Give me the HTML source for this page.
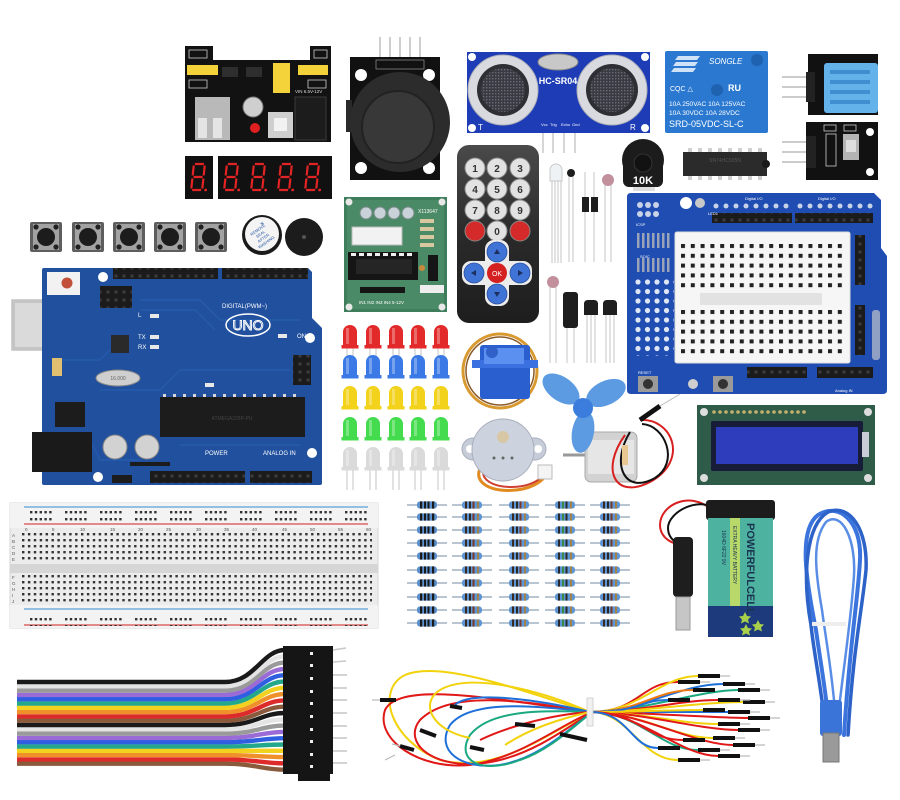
<!DOCTYPE html>
<html><head><meta charset="utf-8"><style>html,body{margin:0;padding:0;background:#fff;}svg{display:block}</style></head><body>
<svg width="900" height="800" viewBox="0 0 900 800" xmlns="http://www.w3.org/2000/svg" xmlns:xlink="http://www.w3.org/1999/xlink" font-family="Liberation Sans, sans-serif">
<defs>
 <pattern id="railH" x="30" y="511" width="35" height="7" patternUnits="userSpaceOnUse"><rect x="0" y="0" width="2.4" height="2.4" fill="#333"/><rect x="4.8" y="0" width="2.4" height="2.4" fill="#333"/><rect x="9.6" y="0" width="2.4" height="2.4" fill="#333"/><rect x="14.4" y="0" width="2.4" height="2.4" fill="#333"/><rect x="19.2" y="0" width="2.4" height="2.4" fill="#333"/></pattern>
 <pattern id="mainH" x="22" y="533" width="5.9" height="6" patternUnits="userSpaceOnUse"><rect x="0" y="0" width="2.4" height="2.4" fill="#333"/></pattern>
 <pattern id="protoA" x="681" y="244" width="9.8" height="9.8" patternUnits="userSpaceOnUse"><rect x="0" y="0" width="4" height="4" fill="#222"/></pattern>
 <pattern id="protoB" x="681" y="310" width="9.8" height="9.8" patternUnits="userSpaceOnUse"><rect x="0" y="0" width="4" height="4" fill="#222"/></pattern>
 <pattern id="perf" x="634" y="278" width="9.5" height="9.5" patternUnits="userSpaceOnUse"><circle cx="4" cy="4" r="2.6" fill="#dfe6f5"/></pattern>
 <pattern id="soic" x="636" y="233" width="5" height="10" patternUnits="userSpaceOnUse"><rect width="5" height="10" fill="#1f4db2"/><rect x="1" y="0" width="2.5" height="10" fill="#9aa3b8"/></pattern>
 <pattern id="mesh" x="0" y="0" width="3" height="3" patternUnits="userSpaceOnUse"><rect width="3" height="3" fill="#3a3a42"/><rect width="1.4" height="1.4" fill="#6a6a74"/></pattern>
 <pattern id="hdr" x="0" y="0" width="8" height="8" patternUnits="userSpaceOnUse"><rect width="8" height="8" fill="#1b1b1b"/><rect x="2.5" y="2.5" width="3" height="3" fill="#3c3c3c"/></pattern>
 <linearGradient id="remG" x1="0" y1="0" x2="0" y2="1"><stop offset="0" stop-color="#4a4a4a"/><stop offset="0.5" stop-color="#2a2a2a"/><stop offset="1" stop-color="#1e1e1e"/></linearGradient>
 <g id="dig"><path d="M3 1H12 M2 2.5V12.5 M13 2.5V12.5 M3 14H12 M2 15.5V25.5 M13 15.5V25.5 M3 27H12" stroke="#e42424" stroke-width="2.2" fill="none"/><circle cx="16.5" cy="27" r="1.4" fill="#e42424"/></g>
 <g id="led"><path d="M-7 23V7A7 7 0 0 1 7 7V23Z"/><rect x="-8.5" y="20" width="17" height="3.5"/><rect x="-4" y="3" width="3" height="16" fill="#fff" opacity="0.3"/></g>
 <g id="resA"><line x1="-20" y1="0" x2="20" y2="0" stroke="#8fa3b8" stroke-width="1.3"/><rect x="-10" y="-3.6" width="20" height="7.2" rx="3" fill="#5a8fcc"/><rect x="-7" y="-3.6" width="2.2" height="7.2" fill="#1a1a1a"/><rect x="-3" y="-3.6" width="2" height="7.2" fill="#1a1a1a"/><rect x="0.5" y="-3.6" width="2" height="7.2" fill="#1a1a1a"/><rect x="5" y="-3.6" width="2.2" height="7.2" fill="#1a1a1a"/></g>
 <g id="resB"><line x1="-20" y1="0" x2="20" y2="0" stroke="#8fa3b8" stroke-width="1.3"/><rect x="-10" y="-3.6" width="20" height="7.2" rx="3" fill="#5e95d4"/><rect x="-7" y="-3.6" width="2" height="7.2" fill="#3a2a20"/><rect x="-3" y="-3.6" width="2" height="7.2" fill="#2a2a2a"/><rect x="0.5" y="-3.6" width="2" height="7.2" fill="#7a3a2a"/><rect x="5" y="-3.6" width="2" height="7.2" fill="#a0824a"/></g>
 <g id="resC"><line x1="-20" y1="0" x2="20" y2="0" stroke="#8fa3b8" stroke-width="1.3"/><rect x="-10" y="-3.6" width="20" height="7.2" rx="3" fill="#5e95d4"/><rect x="-7" y="-3.6" width="2" height="7.2" fill="#2a2a2a"/><rect x="-3" y="-3.6" width="2" height="7.2" fill="#3a8a4a"/><rect x="0.5" y="-3.6" width="2" height="7.2" fill="#2a2a2a"/><rect x="5" y="-3.6" width="2" height="7.2" fill="#a0824a"/></g>
 <g id="btn"><rect x="-16" y="-15" width="32" height="30" rx="2" fill="#5e5e5e"/><rect x="-13" y="-13" width="26" height="26" fill="#a2a2a2"/><circle r="9" fill="#1c1c1c"/><circle cx="-10" cy="-10" r="2.6" fill="#222"/><circle cx="10" cy="-10" r="2.6" fill="#222"/><circle cx="-10" cy="10" r="2.6" fill="#222"/><circle cx="10" cy="10" r="2.6" fill="#222"/></g>
</defs>
<rect width="900" height="800" fill="#fff"/>

<!-- Power module -->
<path d="M185 46H213V60H310V46H331V142H185Z" fill="#121212"/>
<rect x="189" y="50" width="18" height="8" fill="none" stroke="#ccc" stroke-width="0.8"/>
<rect x="314" y="50" width="13" height="8" fill="none" stroke="#ccc" stroke-width="0.8"/>
<rect x="187" y="65" width="31" height="10" fill="#f3d23a"/>
<rect x="273" y="63" width="17" height="30" fill="#f3d23a"/>
<rect x="298" y="65" width="30" height="10" fill="#f3d23a"/>
<rect x="222" y="67" width="16" height="10" fill="#2e2e2e"/>
<rect x="246" y="67" width="16" height="10" fill="#2e2e2e"/>
<rect x="189" y="80" width="18" height="8" fill="none" stroke="#ccc" stroke-width="0.8"/>
<rect x="308" y="80" width="18" height="8" fill="none" stroke="#ccc" stroke-width="0.8"/>
<text x="295" y="93" font-size="4.5" fill="#ddd">VIN 6.5V-12V</text>
<rect x="195" y="97" width="35" height="43" fill="#b9b9b9"/>
<rect x="198" y="118" width="9" height="20" fill="#e4e4e4"/><rect x="213" y="118" width="9" height="20" fill="#e4e4e4"/>
<circle cx="253" cy="107" r="10" fill="#cfcfcf" stroke="#777"/>
<circle cx="255" cy="128" r="5" fill="#e02020"/>
<rect x="268" y="112" width="25" height="26" fill="#cfcfcf"/><rect x="274" y="118" width="13" height="13" fill="#f2f2f2"/>
<rect x="295" y="97" width="31" height="43" fill="#1c1c1c" stroke="#3a3a3a"/>

<!-- 7 segment -->
<rect x="185" y="156" width="28" height="43" fill="#111"/>
<rect x="218" y="156" width="114" height="43" fill="#111"/>
<use xlink:href="#dig" href="#dig" transform="translate(192,163) skewX(-6)"/>
<use xlink:href="#dig" href="#dig" transform="translate(225,163) skewX(-6)"/>
<use xlink:href="#dig" href="#dig" transform="translate(252,163) skewX(-6)"/>
<use xlink:href="#dig" href="#dig" transform="translate(279,163) skewX(-6)"/>
<use xlink:href="#dig" href="#dig" transform="translate(306,163) skewX(-6)"/>

<!-- Joystick -->
<g stroke="#cfcfcf" stroke-width="2"><line x1="380" y1="37" x2="380" y2="65"/><line x1="390" y1="37" x2="390" y2="65"/><line x1="400" y1="37" x2="400" y2="65"/><line x1="410" y1="37" x2="410" y2="65"/><line x1="420" y1="37" x2="420" y2="65"/></g>
<rect x="350" y="57" width="90" height="123" fill="#111"/>
<rect x="376" y="60" width="48" height="9" fill="none" stroke="#888" stroke-width="0.8"/>
<circle cx="361" cy="75" r="6" fill="#fff"/><circle cx="429" cy="75" r="6" fill="#fff"/><circle cx="361" cy="168" r="6" fill="#fff"/><circle cx="429" cy="168" r="6" fill="#fff"/>
<rect x="346" y="100" width="6" height="32" fill="#2a2a2a"/>
<circle cx="400" cy="122" r="50" fill="#2c2c2c"/>
<circle cx="398" cy="127" r="36" fill="#383838" stroke="#222" stroke-width="2"/>

<!-- HC-SR04 -->
<g stroke="#d6d6d6" stroke-width="2"><line x1="543" y1="130" x2="543" y2="153"/><line x1="553" y1="130" x2="553" y2="153"/><line x1="564" y1="130" x2="564" y2="153"/><line x1="575" y1="130" x2="575" y2="153"/></g>
<rect x="467" y="52" width="183" height="81" fill="#1d3cb6"/>
<circle cx="472" cy="57" r="4" fill="#fff"/><circle cx="645" cy="57" r="4" fill="#fff"/><circle cx="472" cy="128" r="4" fill="#fff"/><circle cx="645" cy="128" r="4" fill="#fff"/>
<circle cx="503" cy="90" r="35" fill="#d8dadf" stroke="#aeb0b8"/><circle cx="503" cy="90" r="26" fill="#2e2e34"/><circle cx="503" cy="90" r="22" fill="url(#mesh)"/>
<circle cx="612" cy="90" r="35" fill="#d8dadf" stroke="#aeb0b8"/><circle cx="612" cy="90" r="26" fill="#2e2e34"/><circle cx="612" cy="90" r="22" fill="url(#mesh)"/>
<ellipse cx="558" cy="62" rx="20" ry="8" fill="#c8c8c8" stroke="#888"/>
<text x="558" y="84" font-size="9" fill="#fff" text-anchor="middle" font-weight="bold">HC-SR04</text>
<g font-size="4" fill="#fff"><text x="541" y="126">Vcc</text><text x="550" y="126">Trig</text><text x="561" y="126">Echo</text><text x="572" y="126">Gnd</text></g>
<text x="478" y="130" font-size="8" fill="#fff">T</text><text x="630" y="130" font-size="8" fill="#fff">R</text>

<!-- Relay -->
<rect x="665" y="51" width="103" height="82" rx="2" fill="#2a78d0"/>
<g fill="#cfe2f7"><path d="M678 56H700L697 60H675Z"/><path d="M676 62H698L695 66H673Z"/><path d="M674 68H696L693 72H671Z"/></g>
<text x="709" y="64" font-size="8" font-style="italic" fill="#fff">SONGLE</text>
<circle cx="757" cy="60" r="6" fill="#1f62b0"/><circle cx="717" cy="90" r="6" fill="#1f62b0"/>
<text x="670" y="91" font-size="7" fill="#fff">CQC △</text><text x="728" y="91" font-size="9" font-weight="bold" fill="#fff">RU</text>
<text x="669" y="106" font-size="6.6" fill="#fff">10A 250VAC 10A 125VAC</text>
<text x="669" y="115" font-size="6.6" fill="#fff">10A  30VDC 10A  28VDC</text>
<text x="669" y="127" font-size="9" fill="#fff">SRD-05VDC-SL-C</text>

<!-- DHT11 -->
<g stroke="#bbb" stroke-width="1.5"><line x1="782" y1="77" x2="808" y2="77"/><line x1="782" y1="87" x2="808" y2="87"/><line x1="782" y1="97" x2="808" y2="97"/></g>
<rect x="808" y="54" width="70" height="61" fill="#111"/>
<rect x="806" y="72" width="9" height="30" fill="#222"/>
<rect x="824" y="63" width="54" height="50" rx="3" fill="#63b3ea"/>
<g fill="#3f8fd0"><rect x="830" y="70" width="40" height="4"/><rect x="830" y="80" width="40" height="4"/><rect x="830" y="90" width="40" height="4"/><rect x="830" y="100" width="40" height="4"/></g>
<!-- IR module -->
<g stroke="#bbb" stroke-width="1.5"><line x1="782" y1="142" x2="808" y2="142"/><line x1="782" y1="152" x2="808" y2="152"/><line x1="782" y1="162" x2="808" y2="162"/></g>
<rect x="806" y="122" width="72" height="58" fill="#111"/>
<rect x="806" y="136" width="10" height="32" fill="#222"/>
<rect x="826" y="134" width="10" height="32" fill="none" stroke="#ccc" stroke-width="0.8"/>
<rect x="843" y="134" width="16" height="26" fill="#b4b4b4"/><rect x="846" y="140" width="10" height="12" fill="#ddd"/>
<rect x="824" y="125" width="12" height="6" fill="none" stroke="#ccc" stroke-width="0.8"/><rect x="844" y="125" width="12" height="6" fill="none" stroke="#ccc" stroke-width="0.8"/>
<circle cx="870" cy="132" r="4" fill="#fff"/><circle cx="870" cy="172" r="4" fill="#fff"/>

<!-- Potentiometer & IC -->
<rect x="633" y="185" width="22" height="6" fill="#ddd"/>
<circle cx="643" cy="160" r="21" fill="#1c1c1c"/>
<rect x="623" y="160" width="40" height="27" rx="6" fill="#1c1c1c"/>
<circle cx="643" cy="163" r="9" fill="#121212" stroke="#333"/>
<text x="643" y="184" font-size="11" font-weight="bold" fill="#fff" text-anchor="middle">10K</text>
<g fill="#d0d0d0"><rect x="688" y="148" width="4" height="5"/><rect x="698" y="148" width="4" height="5"/><rect x="708" y="148" width="4" height="5"/><rect x="718" y="148" width="4" height="5"/><rect x="728" y="148" width="4" height="5"/><rect x="738" y="148" width="4" height="5"/><rect x="748" y="148" width="4" height="5"/><rect x="758" y="148" width="4" height="5"/>
<rect x="688" y="175" width="4" height="5"/><rect x="698" y="175" width="4" height="5"/><rect x="708" y="175" width="4" height="5"/><rect x="718" y="175" width="4" height="5"/><rect x="728" y="175" width="4" height="5"/><rect x="738" y="175" width="4" height="5"/><rect x="748" y="175" width="4" height="5"/><rect x="758" y="175" width="4" height="5"/></g>
<rect x="683" y="152" width="84" height="24" fill="#2b2b2b"/>
<circle cx="766" cy="164" r="4" fill="#1a1a1a"/>
<text x="725" y="162" font-size="5" fill="#555" text-anchor="middle">SN74HC595N</text>

<!-- Remote -->
<rect x="457" y="145" width="82" height="178" rx="12" fill="url(#remG)"/>
<g stroke="#888" stroke-width="1"><circle cx="475" cy="168" r="10" fill="#e2e2e2"/><circle cx="497" cy="168" r="10" fill="#e2e2e2"/><circle cx="520" cy="168" r="10" fill="#e2e2e2"/>
<circle cx="475" cy="189" r="10" fill="#e2e2e2"/><circle cx="497" cy="189" r="10" fill="#e2e2e2"/><circle cx="520" cy="189" r="10" fill="#e2e2e2"/>
<circle cx="475" cy="210" r="10" fill="#e2e2e2"/><circle cx="497" cy="210" r="10" fill="#e2e2e2"/><circle cx="520" cy="210" r="10" fill="#e2e2e2"/>
<circle cx="475" cy="231" r="10" fill="#d42a2a"/><circle cx="497" cy="231" r="10" fill="#e2e2e2"/><circle cx="520" cy="231" r="10" fill="#d42a2a"/></g>
<g font-size="10" font-weight="bold" fill="#333" text-anchor="middle"><text x="475" y="172">1</text><text x="497" y="172">2</text><text x="520" y="172">3</text><text x="475" y="193">4</text><text x="497" y="193">5</text><text x="520" y="193">6</text><text x="475" y="214">7</text><text x="497" y="214">8</text><text x="520" y="214">9</text><text x="497" y="235">0</text></g>
<rect x="485" y="240" width="24" height="66" rx="9" fill="#ececec"/>
<rect x="462" y="261" width="70" height="24" rx="9" fill="#ececec"/>
<g stroke="#2a4f9e" stroke-width="0.8"><circle cx="497" cy="252" r="10" fill="#3f74d6"/><circle cx="474" cy="273" r="10" fill="#3f74d6"/><circle cx="520" cy="273" r="10" fill="#3f74d6"/><circle cx="497" cy="294" r="10" fill="#3f74d6"/></g>
<circle cx="497" cy="273" r="10" fill="#d42020"/>
<text x="497" y="276" font-size="7" fill="#fff" text-anchor="middle">OK</text>
<g fill="#1d2f60"><path d="M494 254L497 249L500 254Z"/><path d="M494 292L497 297L500 292Z"/><path d="M476 270L471 273L476 276Z"/><path d="M518 270L523 273L518 276Z"/></g>

<!-- small components -->
<g stroke="#c4c4c4" stroke-width="1">
<line x1="552" y1="178" x2="552" y2="263"/><line x1="555" y1="178" x2="555" y2="263"/><line x1="558" y1="178" x2="558" y2="263"/><line x1="561" y1="178" x2="561" y2="263"/>
<line x1="569" y1="176" x2="569" y2="262"/><line x1="573" y1="176" x2="573" y2="262"/>
<line x1="585" y1="172" x2="585" y2="262"/><line x1="594" y1="172" x2="594" y2="262"/>
<line x1="605" y1="185" x2="605" y2="262"/><line x1="611" y1="185" x2="611" y2="262"/>
<line x1="550" y1="287" x2="550" y2="363"/><line x1="556" y1="287" x2="556" y2="363"/>
<line x1="567" y1="326" x2="567" y2="363"/><line x1="574" y1="326" x2="574" y2="363"/>
<line x1="587" y1="314" x2="587" y2="363"/><line x1="591" y1="314" x2="591" y2="363"/><line x1="595" y1="314" x2="595" y2="363"/>
<line x1="606" y1="314" x2="606" y2="363"/><line x1="610" y1="314" x2="610" y2="363"/><line x1="614" y1="314" x2="614" y2="363"/>
</g>
<path d="M550 181V170A6 6 0 0 1 562 170V181Z" fill="#eef2f4" stroke="#c8c8c8"/>
<circle cx="571" cy="173" r="4" fill="#1e1e1e"/>
<rect x="582" y="197" width="7" height="15" fill="#1e1e1e"/><rect x="591" y="197" width="7" height="15" fill="#1e1e1e"/>
<circle cx="608" cy="180" r="6" fill="#c2909c"/>
<circle cx="553" cy="282" r="6" fill="#c2909c"/>
<rect x="563" y="292" width="15" height="36" rx="3" fill="#1e1e1e"/>
<path d="M584 315V303A4 4 0 0 1 588 300H594A4 4 0 0 1 598 303V315Z" fill="#1e1e1e"/>
<path d="M603 315V303A4 4 0 0 1 607 300H613A4 4 0 0 1 617 303V315Z" fill="#1e1e1e"/>

<!-- Buttons -->
<use xlink:href="#btn" href="#btn" x="46" y="237"/>
<use xlink:href="#btn" href="#btn" x="88" y="237"/>
<use xlink:href="#btn" href="#btn" x="129" y="237"/>
<use xlink:href="#btn" href="#btn" x="170" y="237"/>
<use xlink:href="#btn" href="#btn" x="211" y="237"/>

<!-- Buzzers -->
<circle cx="262" cy="235" r="20" fill="#1a1a1a"/>
<circle cx="262" cy="234" r="17" fill="#f4f4f4"/>
<g transform="rotate(-35 262 236)" font-size="4" fill="#2050a0" text-anchor="middle"><text x="262" y="230">REMOVE</text><text x="262" y="235">SEAL</text><text x="262" y="240">AFTER</text><text x="262" y="245">WASHING</text></g>
<text x="262" y="226" font-size="7" fill="#2050a0" text-anchor="middle">+</text>
<circle cx="304" cy="237" r="19" fill="#1c1c1c"/><circle cx="304" cy="237" r="2" fill="#555"/>

<!-- ULN2003 -->
<rect x="344" y="197" width="103" height="115" fill="#3f7e5c"/>
<rect x="347" y="200" width="97" height="109" fill="#4a8a66"/>
<circle cx="349" cy="202" r="3.5" fill="#e8e8e8"/><circle cx="442" cy="202" r="3.5" fill="#e8e8e8"/><circle cx="349" cy="307" r="3.5" fill="#e8e8e8"/><circle cx="442" cy="307" r="3.5" fill="#e8e8e8"/>
<g fill="#c8d2d8" stroke="#7a8a8a"><circle cx="366" cy="213" r="6"/><circle cx="380" cy="213" r="6"/><circle cx="394" cy="213" r="6"/><circle cx="408" cy="213" r="6"/></g>
<text x="418" y="213" font-size="5" fill="#fff">X113647</text>
<g fill="#d8c8a0"><rect x="420" y="219" width="14" height="4"/><rect x="420" y="227" width="14" height="4"/><rect x="420" y="235" width="14" height="4"/><rect x="420" y="243" width="14" height="4"/></g>
<rect x="352" y="227" width="50" height="18" fill="#f2f2f2" stroke="#bbb"/>
<rect x="348" y="252" width="70" height="28" fill="#151515"/>
<g fill="#eee"><rect x="351" y="253" width="5" height="3"/><rect x="359" y="253" width="5" height="3"/><rect x="367" y="253" width="5" height="3"/><rect x="375" y="253" width="5" height="3"/><rect x="383" y="253" width="5" height="3"/><rect x="391" y="253" width="5" height="3"/><rect x="399" y="253" width="5" height="3"/><rect x="407" y="253" width="5" height="3"/></g>
<rect x="356" y="259" width="56" height="15" fill="#252525"/>
<rect x="428" y="255" width="10" height="26" fill="#151515"/>
<circle cx="422" cy="268" r="3" fill="#c88a3a"/>
<rect x="360" y="287" width="45" height="6" fill="#151515"/>
<rect x="420" y="285" width="24" height="8" fill="#eee"/>
<text x="359" y="304" font-size="4.5" fill="#fff">IN1 IN2 IN3 IN4 5-12V</text>

<!-- Arduino UNO -->
<rect x="12" y="300" width="68" height="50" fill="#c4c4c4" stroke="#a0a0a0"/>
<rect x="15" y="303" width="62" height="44" fill="#dadada"/>
<path d="M42 270Q42 268 44 268H308L312 272V318L322 328V483Q322 485 320 485H44Q42 485 42 483Z" fill="#20509e"/>
<g stroke="#2b5fb4" stroke-width="1.2" fill="none" opacity="0.8"><path d="M140 300H200L220 320H300"/><path d="M140 310H195L215 330"/><path d="M100 390H160L180 370H290"/><path d="M60 360H100L110 350"/><path d="M180 445H300"/><path d="M70 440H90L100 460H140"/></g>
<rect x="12" y="300" width="30" height="50" fill="#c4c4c4"/><rect x="15" y="303" width="27" height="44" fill="#dadada"/>
<rect x="32" y="432" width="60" height="40" fill="#1a1a1a"/>
<rect x="113" y="268" width="105" height="11" fill="url(#hdr)"/>
<rect x="222" y="268" width="86" height="11" fill="url(#hdr)"/>
<rect x="150" y="471" width="95" height="12" fill="url(#hdr)"/>
<rect x="250" y="471" width="62" height="12" fill="url(#hdr)"/>
<circle cx="103" cy="277" r="5" fill="#fff"/><circle cx="310" cy="338" r="5" fill="#fff"/><circle cx="312" cy="453" r="5" fill="#fff"/><circle cx="98" cy="477" r="5" fill="#fff"/>
<rect x="47" y="272" width="33" height="23" fill="#f2f2f2"/><circle cx="67" cy="283" r="5.5" fill="#c0503a"/>
<rect x="100" y="286" width="32" height="22" fill="url(#hdr)"/>
<rect x="111" y="335" width="18" height="18" fill="#2a2a2a"/>
<ellipse cx="118" cy="378" rx="22" ry="8" fill="#cfcfcf" stroke="#888"/>
<text x="118" y="380" font-size="5" fill="#666" text-anchor="middle">16.000</text>
<rect x="55" y="402" width="30" height="25" fill="#1c1c1c"/>
<rect x="52" y="358" width="10" height="18" fill="#e0c070"/>
<g fill="#d8d8d8"><rect x="163" y="394" width="3" height="4"/><rect x="173" y="394" width="3" height="4"/><rect x="183" y="394" width="3" height="4"/><rect x="193" y="394" width="3" height="4"/><rect x="203" y="394" width="3" height="4"/><rect x="213" y="394" width="3" height="4"/><rect x="223" y="394" width="3" height="4"/><rect x="233" y="394" width="3" height="4"/><rect x="243" y="394" width="3" height="4"/><rect x="253" y="394" width="3" height="4"/><rect x="263" y="394" width="3" height="4"/><rect x="273" y="394" width="3" height="4"/><rect x="283" y="394" width="3" height="4"/><rect x="293" y="394" width="3" height="4"/></g>
<rect x="160" y="397" width="145" height="40" fill="#1c1c1c"/>
<text x="232" y="420" font-size="5" fill="#444" text-anchor="middle">ATMEGA328P-PU</text>
<rect x="293" y="355" width="18" height="30" fill="url(#hdr)"/>
<circle cx="115" cy="447" r="12" fill="#d2d2d2" stroke="#888"/><circle cx="147" cy="447" r="12" fill="#d2d2d2" stroke="#888"/>
<rect x="130" y="462" width="40" height="4" fill="#1c1c1c"/>
<rect x="112" y="475" width="20" height="8" fill="#1c1c1c"/>
<ellipse cx="248" cy="325" rx="22" ry="11" fill="none" stroke="#fff" stroke-width="1.5"/>
<text x="248" y="330" font-size="14" fill="#20509e" stroke="#fff" stroke-width="0.9" text-anchor="middle">UNO</text>
<g font-size="6" fill="#fff"><text x="222" y="308">DIGITAL(PWM~)</text><text x="297" y="338">ON</text><text x="138" y="339">TX</text><text x="138" y="349">RX</text><text x="138" y="317">L</text><text x="205" y="455">POWER</text><text x="263" y="455">ANALOG IN</text></g>
<g fill="#e8e8e8"><rect x="150" y="314" width="9" height="4"/><rect x="150" y="335" width="9" height="4"/><rect x="150" y="345" width="9" height="4"/><rect x="278" y="334" width="9" height="4"/><rect x="205" y="383" width="9" height="4"/></g>

<!-- LEDs -->
<g stroke="#c6c6c6" stroke-width="1">
<line x1="347" y1="345" x2="347" y2="357"/><line x1="353" y1="345" x2="353" y2="357"/><line x1="370" y1="345" x2="370" y2="357"/><line x1="376" y1="345" x2="376" y2="357"/><line x1="393" y1="345" x2="393" y2="357"/><line x1="399" y1="345" x2="399" y2="357"/><line x1="415" y1="345" x2="415" y2="357"/><line x1="421" y1="345" x2="421" y2="357"/><line x1="438" y1="345" x2="438" y2="357"/><line x1="444" y1="345" x2="444" y2="357"/>
<line x1="347" y1="468" x2="347" y2="490"/><line x1="353" y1="468" x2="353" y2="490"/><line x1="370" y1="468" x2="370" y2="490"/><line x1="376" y1="468" x2="376" y2="490"/><line x1="393" y1="468" x2="393" y2="490"/><line x1="399" y1="468" x2="399" y2="490"/><line x1="415" y1="468" x2="415" y2="490"/><line x1="421" y1="468" x2="421" y2="490"/><line x1="438" y1="468" x2="438" y2="490"/><line x1="444" y1="468" x2="444" y2="490"/>
</g>
<g fill="#e22a2a"><use xlink:href="#led" href="#led" x="350" y="325"/><use xlink:href="#led" href="#led" x="373" y="325"/><use xlink:href="#led" href="#led" x="396" y="325"/><use xlink:href="#led" href="#led" x="418" y="325"/><use xlink:href="#led" href="#led" x="441" y="325"/></g>
<g fill="#3b79e6"><use xlink:href="#led" href="#led" x="350" y="355"/><use xlink:href="#led" href="#led" x="373" y="355"/><use xlink:href="#led" href="#led" x="396" y="355"/><use xlink:href="#led" href="#led" x="418" y="355"/><use xlink:href="#led" href="#led" x="441" y="355"/></g>
<g fill="#f3d21c"><use xlink:href="#led" href="#led" x="350" y="386"/><use xlink:href="#led" href="#led" x="373" y="386"/><use xlink:href="#led" href="#led" x="396" y="386"/><use xlink:href="#led" href="#led" x="418" y="386"/><use xlink:href="#led" href="#led" x="441" y="386"/></g>
<g fill="#44dc4e"><use xlink:href="#led" href="#led" x="350" y="417"/><use xlink:href="#led" href="#led" x="373" y="417"/><use xlink:href="#led" href="#led" x="396" y="417"/><use xlink:href="#led" href="#led" x="418" y="417"/><use xlink:href="#led" href="#led" x="441" y="417"/></g>
<g fill="#dadada"><use xlink:href="#led" href="#led" x="350" y="447"/><use xlink:href="#led" href="#led" x="373" y="447"/><use xlink:href="#led" href="#led" x="396" y="447"/><use xlink:href="#led" href="#led" x="418" y="447"/><use xlink:href="#led" href="#led" x="441" y="447"/></g>

<!-- Servo -->
<ellipse cx="500" cy="371" rx="37" ry="37" fill="none" stroke="#d89a30" stroke-width="3"/>
<ellipse cx="500" cy="371" rx="34" ry="34" fill="none" stroke="#8a5a2a" stroke-width="1.5"/>
<rect x="480" y="345" width="50" height="54" rx="3" fill="#2a5fd0"/>
<rect x="472" y="360" width="66" height="8" fill="#3a70e0"/>
<rect x="484" y="348" width="40" height="16" fill="#5b8ff0"/>
<circle cx="492" cy="352" r="6" fill="#3060c8"/>

<!-- Stepper -->
<path d="M480 468C468 498 545 498 548 468" fill="none" stroke="#e08a20" stroke-width="3"/>
<path d="M484 468C475 492 540 494 545 470" fill="none" stroke="#d04030" stroke-width="2"/>
<rect x="462" y="438" width="84" height="22" rx="11" fill="#c6ccd8" stroke="#a8aebc"/>
<circle cx="470" cy="449" r="4" fill="#fff"/><circle cx="538" cy="449" r="4" fill="#fff"/>
<circle cx="503" cy="450" r="31" fill="#ccd2de" stroke="#a8aebc"/>
<circle cx="503" cy="437" r="6" fill="#d8c7a4"/>
<circle cx="503" cy="458" r="1.5" fill="#666"/><circle cx="512" cy="458" r="1.5" fill="#666"/><circle cx="494" cy="458" r="1.5" fill="#666"/>
<rect x="538" y="465" width="14" height="14" fill="#f4f4f4" stroke="#bbb"/>

<!-- DC motor & fan -->
<line x1="563" y1="455" x2="587" y2="455" stroke="#999" stroke-width="3"/>
<rect x="585" y="432" width="52" height="50" rx="6" fill="#d2d2d2" stroke="#a8a8a8"/>
<rect x="588" y="440" width="46" height="34" fill="#e6e6e6"/>
<path d="M625 435C600 470 615 500 650 482C690 460 672 418 640 420" fill="none" stroke="#d82020" stroke-width="2"/>
<path d="M630 432C610 465 625 495 655 478C680 462 665 425 642 424" fill="none" stroke="#111" stroke-width="2"/>
<rect x="622" y="445" width="6" height="20" fill="#e8c890"/>
<line x1="640" y1="420" x2="660" y2="406" stroke="#111" stroke-width="5"/>
<line x1="660" y1="406" x2="680" y2="394" stroke="#bbb" stroke-width="1"/>
<ellipse cx="561" cy="389" rx="21" ry="12" transform="rotate(35 561 389)" fill="#5c9be2"/>
<ellipse cx="606" cy="393" rx="21" ry="12" transform="rotate(-25 606 393)" fill="#5c9be2"/>
<ellipse cx="583" cy="432" rx="11" ry="21" transform="rotate(10 583 432)" fill="#5c9be2"/>
<circle cx="583" cy="408" r="10" fill="#3a7ddc"/>

<!-- Prototype shield -->
<path d="M627 197Q627 193 631 193H874L881 200V248L887 256V390Q887 394 883 394H631Q627 394 627 390Z" fill="#1f4db2"/>
<rect x="712" y="213" width="80" height="10" fill="url(#hdr)"/>
<rect x="795" y="213" width="78" height="10" fill="url(#hdr)"/>
<g fill="#c9d3e8"><circle cx="716" cy="206" r="2.5"/><circle cx="726" cy="206" r="2.5"/><circle cx="736" cy="206" r="2.5"/><circle cx="746" cy="206" r="2.5"/><circle cx="756" cy="206" r="2.5"/><circle cx="766" cy="206" r="2.5"/><circle cx="776" cy="206" r="2.5"/><circle cx="786" cy="206" r="2.5"/><circle cx="800" cy="206" r="2.5"/><circle cx="810" cy="206" r="2.5"/><circle cx="820" cy="206" r="2.5"/><circle cx="830" cy="206" r="2.5"/><circle cx="840" cy="206" r="2.5"/><circle cx="850" cy="206" r="2.5"/><circle cx="860" cy="206" r="2.5"/><circle cx="870" cy="206" r="2.5"/></g>
<g font-size="4" fill="#fff"><text x="745" y="200">Digital I/O</text><text x="818" y="200">Digital I/O</text><text x="708" y="215">LED1</text><text x="636" y="226">ICSP</text><text x="640" y="258">SOIC</text><text x="638" y="374">RESET</text><text x="835" y="392">Analog IN</text></g>
<g fill="#c9d3e8"><circle cx="640" cy="205" r="3"/><circle cx="648" cy="205" r="3"/><circle cx="656" cy="205" r="3"/><circle cx="640" cy="214" r="3"/><circle cx="648" cy="214" r="3"/><circle cx="656" cy="214" r="3"/></g>
<circle cx="686" cy="203" r="6" fill="#fff"/>
<circle cx="700" cy="203" r="5" fill="#c8c8c8"/>
<rect x="636" y="233" width="36" height="15" fill="url(#soic)"/>
<rect x="636" y="258" width="36" height="14" fill="url(#soic)"/>
<rect x="634" y="278" width="40" height="78" fill="url(#perf)"/>
<rect x="675" y="232" width="175" height="131" rx="2" fill="#f6f6f6" stroke="#ddd"/>
<rect x="681" y="244" width="166" height="44" fill="url(#protoA)"/>
<rect x="700" y="293" width="122" height="12" fill="#e2e2e2"/>
<rect x="681" y="310" width="166" height="46" fill="url(#protoB)"/>
<rect x="855" y="235" width="10" height="50" fill="url(#hdr)"/>
<rect x="855" y="305" width="10" height="50" fill="url(#hdr)"/>
<rect x="872" y="310" width="8" height="50" rx="3" fill="#8fa0c4"/>
<rect x="747" y="367" width="60" height="11" fill="url(#hdr)"/>
<rect x="817" y="367" width="56" height="11" fill="url(#hdr)"/>
<rect x="638" y="376" width="20" height="16" fill="#9a9a9a"/><circle cx="648" cy="384" r="5" fill="#333"/>
<rect x="713" y="376" width="20" height="16" fill="#9a9a9a"/><circle cx="723" cy="384" r="5" fill="#333"/>
<circle cx="693" cy="384" r="5" fill="#cfcfcf"/>

<!-- LCD -->
<rect x="697" y="405" width="178" height="80" fill="#2e5c49"/>
<circle cx="704" cy="412" r="4" fill="#ddd"/><circle cx="868" cy="412" r="4" fill="#ddd"/><circle cx="704" cy="478" r="4" fill="#ddd"/><circle cx="868" cy="478" r="4" fill="#ddd"/>
<g fill="#c8b070"><circle cx="714" cy="412" r="1.8"/><circle cx="720" cy="412" r="1.8"/><circle cx="726" cy="412" r="1.8"/><circle cx="732" cy="412" r="1.8"/><circle cx="738" cy="412" r="1.8"/><circle cx="744" cy="412" r="1.8"/><circle cx="750" cy="412" r="1.8"/><circle cx="756" cy="412" r="1.8"/><circle cx="762" cy="412" r="1.8"/><circle cx="768" cy="412" r="1.8"/><circle cx="774" cy="412" r="1.8"/><circle cx="780" cy="412" r="1.8"/><circle cx="786" cy="412" r="1.8"/><circle cx="792" cy="412" r="1.8"/><circle cx="798" cy="412" r="1.8"/><circle cx="804" cy="412" r="1.8"/></g>
<rect x="711" y="421" width="152" height="50" rx="2" fill="#171c38"/>
<rect x="716" y="427" width="142" height="37" fill="#2d3dbc"/>
<rect x="862" y="432" width="7" height="25" fill="#c8ccd8"/>

<!-- Breadboard -->
<rect x="10" y="503" width="368" height="125" fill="#ececec" stroke="#d6d6d6"/>
<rect x="10" y="503" width="368" height="25" fill="#f3f3f3"/>
<line x1="24" y1="507" x2="368" y2="507" stroke="#5aa0d8" stroke-width="1.2"/>
<line x1="24" y1="524" x2="368" y2="524" stroke="#d84a4a" stroke-width="1.2"/>
<rect x="30" y="511" width="340" height="11" fill="url(#railH)"/>
<g font-size="4.5" fill="#555"><text x="25" y="531">0</text><text x="52" y="531">5</text><text x="80" y="531">10</text><text x="110" y="531">15</text><text x="138" y="531">20</text><text x="166" y="531">25</text><text x="196" y="531">30</text><text x="224" y="531">35</text><text x="252" y="531">40</text><text x="282" y="531">45</text><text x="310" y="531">50</text><text x="338" y="531">55</text><text x="366" y="531">60</text>
<text x="12" y="537">A</text><text x="12" y="543">B</text><text x="12" y="549">C</text><text x="12" y="555">D</text><text x="12" y="561">E</text><text x="12" y="579">F</text><text x="12" y="585">G</text><text x="12" y="591">H</text><text x="12" y="597">I</text><text x="12" y="603">J</text></g>
<rect x="22" y="533" width="350" height="29" fill="url(#mainH)"/>
<rect x="10" y="564" width="368" height="9" fill="#d6d6d6"/>
<rect x="22" y="575" width="350" height="29" fill="url(#mainH)"/>
<rect x="10" y="605" width="368" height="23" fill="#f3f3f3"/>
<line x1="24" y1="609" x2="368" y2="609" stroke="#5aa0d8" stroke-width="1.2"/>
<line x1="24" y1="625" x2="368" y2="625" stroke="#d84a4a" stroke-width="1.2"/>
<rect x="30" y="613" width="340" height="11" fill="url(#railH)" transform="translate(0,2)"/>

<!-- Resistors -->
<g>
<use href="#resA" xlink:href="#resA" x="427" y="505"/><use href="#resB" xlink:href="#resB" x="472" y="505"/><use href="#resB" xlink:href="#resB" x="519" y="505"/><use href="#resC" xlink:href="#resC" x="565" y="505"/><use href="#resB" xlink:href="#resB" x="610" y="505"/>
<use href="#resA" xlink:href="#resA" x="427" y="517"/><use href="#resB" xlink:href="#resB" x="472" y="517"/><use href="#resB" xlink:href="#resB" x="519" y="517"/><use href="#resC" xlink:href="#resC" x="565" y="517"/><use href="#resB" xlink:href="#resB" x="610" y="517"/>
<use href="#resA" xlink:href="#resA" x="427" y="530"/><use href="#resB" xlink:href="#resB" x="472" y="530"/><use href="#resB" xlink:href="#resB" x="519" y="530"/><use href="#resC" xlink:href="#resC" x="565" y="530"/><use href="#resB" xlink:href="#resB" x="610" y="530"/>
<use href="#resA" xlink:href="#resA" x="427" y="543"/><use href="#resB" xlink:href="#resB" x="472" y="543"/><use href="#resB" xlink:href="#resB" x="519" y="543"/><use href="#resC" xlink:href="#resC" x="565" y="543"/><use href="#resB" xlink:href="#resB" x="610" y="543"/>
<use href="#resA" xlink:href="#resA" x="427" y="556"/><use href="#resB" xlink:href="#resB" x="472" y="556"/><use href="#resB" xlink:href="#resB" x="519" y="556"/><use href="#resC" xlink:href="#resC" x="565" y="556"/><use href="#resB" xlink:href="#resB" x="610" y="556"/>
<use href="#resA" xlink:href="#resA" x="427" y="570"/><use href="#resB" xlink:href="#resB" x="472" y="570"/><use href="#resB" xlink:href="#resB" x="519" y="570"/><use href="#resC" xlink:href="#resC" x="565" y="570"/><use href="#resB" xlink:href="#resB" x="610" y="570"/>
<use href="#resA" xlink:href="#resA" x="427" y="583"/><use href="#resB" xlink:href="#resB" x="472" y="583"/><use href="#resB" xlink:href="#resB" x="519" y="583"/><use href="#resC" xlink:href="#resC" x="565" y="583"/><use href="#resB" xlink:href="#resB" x="610" y="583"/>
<use href="#resA" xlink:href="#resA" x="427" y="597"/><use href="#resB" xlink:href="#resB" x="472" y="597"/><use href="#resB" xlink:href="#resB" x="519" y="597"/><use href="#resC" xlink:href="#resC" x="565" y="597"/><use href="#resB" xlink:href="#resB" x="610" y="597"/>
<use href="#resA" xlink:href="#resA" x="427" y="610"/><use href="#resB" xlink:href="#resB" x="472" y="610"/><use href="#resB" xlink:href="#resB" x="519" y="610"/><use href="#resC" xlink:href="#resC" x="565" y="610"/><use href="#resB" xlink:href="#resB" x="610" y="610"/>
<use href="#resA" xlink:href="#resA" x="427" y="623"/><use href="#resB" xlink:href="#resB" x="472" y="623"/><use href="#resB" xlink:href="#resB" x="519" y="623"/><use href="#resC" xlink:href="#resC" x="565" y="623"/><use href="#resB" xlink:href="#resB" x="610" y="623"/>
</g>

<!-- 9V battery -->
<path d="M712 510C690 490 660 505 660 525C660 545 690 548 682 540" fill="none" stroke="#d82020" stroke-width="2"/>
<path d="M716 510C700 495 668 512 668 528C668 545 690 548 684 540" fill="none" stroke="#111" stroke-width="2"/>
<rect x="673" y="537" width="20" height="60" rx="4" fill="#1e1e1e"/>
<rect x="676" y="597" width="14" height="33" fill="#c6c6c6" stroke="#999"/>
<rect x="706" y="500" width="69" height="20" rx="3" fill="#1c1c1c"/>
<rect x="708" y="518" width="65" height="90" fill="#4db2a0"/>
<rect x="730" y="518" width="10" height="90" fill="#b8d86a"/>
<rect x="708" y="606" width="65" height="31" fill="#1d3b7c"/>
<text transform="translate(747,523) rotate(90)" font-size="11" font-weight="bold" fill="#1a3350">POWERFULCELL</text>
<text transform="translate(733,526) rotate(90)" font-size="5" fill="#1a3350">EXTRA HEAVY BATTERY</text>
<text transform="translate(722,530) rotate(90)" font-size="5" fill="#1a3350">1604D 6F22 9V</text>
<g fill="#a8d04a"><path d="M745 612l2 4 4 .5-3 3 1 4-4-2-4 2 1-4-3-3 4-.5Z"/><path d="M758 620l2 4 4 .5-3 3 1 4-4-2-4 2 1-4-3-3 4-.5Z"/><path d="M746 624l2 4 4 .5-3 3 1 4-4-2-4 2 1-4-3-3 4-.5Z"/></g>

<!-- USB cable -->
<g fill="none" stroke-linecap="round">
<path d="M830 735C826 690 820 660 816 630C806 580 798 530 818 515C838 502 862 520 860 560C858 600 850 640 844 735" stroke="#3a74dc" stroke-width="4"/>
<path d="M826 735C822 690 814 655 811 625C802 575 806 525 828 512C850 503 868 530 866 570C862 610 853 650 848 735" stroke="#2d62c8" stroke-width="3.5"/>
<path d="M834 700C830 660 826 640 822 610C815 570 812 540 826 522C842 510 856 540 854 575C852 610 846 650 840 700" stroke="#5a8ee6" stroke-width="2.5"/>
</g>
<rect x="812" y="622" width="34" height="4" fill="#eee"/>
<rect x="820" y="700" width="22" height="36" rx="3" fill="#3b74d8"/>
<rect x="823" y="733" width="16" height="29" fill="#9a9a9a" stroke="#777"/>

<!-- Dupont ribbon -->
<g fill="none" stroke-width="4.4">
<path d="M17 763.7H225C255 763.7 262 769.7 285 769.7" stroke="#8a5a3c"/>
<path d="M17 759.4H225C255 759.4 262 763.4 285 763.4" stroke="#dd2a2a"/>
<path d="M17 755.1H225C255 755.1 262 757.1 285 757.1" stroke="#f0902a"/>
<path d="M17 750.8H225C255 750.8 262 750.8 285 750.8" stroke="#f2d21e"/>
<path d="M17 746.5H225C255 746.5 262 744.5 285 744.5" stroke="#23a88c"/>
<path d="M17 742.2H225C255 742.2 262 738.2 285 738.2" stroke="#2f5fe0"/>
<path d="M17 737.9H225C255 737.9 262 731.9 285 731.9" stroke="#9a6ad6"/>
<path d="M17 733.6H225C255 733.6 262 725.6 285 725.6" stroke="#9a9a9a"/>
<path d="M17 729.3H225C255 729.3 262 719.3 285 719.3" stroke="#e4e4e4"/>
<path d="M17 725H225C255 725 262 713 285 713" stroke="#1a1a1a"/>
<path d="M17 720.7H225C255 720.7 262 706.7 285 706.7" stroke="#8a5a3c"/>
<path d="M17 716.4H225C255 716.4 262 700.4 285 700.4" stroke="#dd2a2a"/>
<path d="M17 712.1H225C255 712.1 262 694.1 285 694.1" stroke="#f0902a"/>
<path d="M17 707.8H225C255 707.8 262 687.8 285 687.8" stroke="#f2d21e"/>
<path d="M17 703.5H225C255 703.5 262 681.5 285 681.5" stroke="#23a88c"/>
<path d="M17 699.2H225C255 699.2 262 675.2 285 675.2" stroke="#2f5fe0"/>
<path d="M17 694.9H225C255 694.9 262 668.9 285 668.9" stroke="#9a6ad6"/>
<path d="M17 690.6H225C255 690.6 262 662.6 285 662.6" stroke="#9a9a9a"/>
<path d="M17 686.3H225C255 686.3 262 656.3 285 656.3" stroke="#e4e4e4"/>
<path d="M17 682H225C255 682 262 650 285 650" stroke="#1a1a1a"/>
</g>
<rect x="283" y="646" width="50" height="128" fill="#151515"/>
<rect x="298" y="773" width="32" height="8" fill="#151515"/>
<g fill="#eee"><rect x="310" y="652" width="3" height="3"/><rect x="310" y="664" width="3" height="3"/><rect x="310" y="677" width="3" height="3"/><rect x="310" y="690" width="3" height="3"/><rect x="310" y="702" width="3" height="3"/><rect x="310" y="715" width="3" height="3"/><rect x="310" y="728" width="3" height="3"/><rect x="310" y="740" width="3" height="3"/><rect x="310" y="753" width="3" height="3"/><rect x="310" y="765" width="3" height="3"/></g>
<g stroke="#c8c8c8" stroke-width="1.6"><line x1="333" y1="650" x2="346" y2="648"/><line x1="333" y1="662" x2="346" y2="661"/><line x1="333" y1="675" x2="347" y2="675"/><line x1="333" y1="688" x2="347" y2="688"/><line x1="333" y1="700" x2="347" y2="700"/><line x1="333" y1="713" x2="347" y2="713"/><line x1="333" y1="726" x2="347" y2="726"/><line x1="333" y1="738" x2="347" y2="738"/><line x1="333" y1="751" x2="347" y2="751"/><line x1="333" y1="763" x2="347" y2="763"/></g>

<!-- Jumper wires -->
<g fill="none" stroke-width="2">
<path d="M590 712C520 690 440 660 405 675C375 690 390 740 440 760C500 775 550 730 590 714" stroke="#f2d20a"/>
<path d="M590 712C500 700 400 680 385 710C375 740 420 770 470 765C520 758 560 725 590 713" stroke="#e01818"/>
<path d="M590 712C520 700 450 690 420 720C400 745 440 775 500 760C540 750 570 725 590 714" stroke="#e01818"/>
<path d="M590 712C530 705 470 700 450 725C435 750 460 770 500 765C540 758 570 728 590 714" stroke="#1e6fd8"/>
<path d="M590 712C540 710 490 710 470 735C455 760 480 775 520 760C550 750 575 725 590 714" stroke="#1aa880"/>
<path d="M590 712C540 690 470 672 440 690C420 702 430 730 470 738" stroke="#f2d20a"/>
<path d="M590 712C540 700 470 690 455 705" stroke="#1e6fd8"/>
<path d="M590 712C545 715 500 730 480 740" stroke="#e01818"/>
<path d="M590 712C545 722 520 735 505 745" stroke="#f2d20a"/>
</g>
<g stroke="#111" stroke-width="4"><line x1="380" y1="700" x2="396" y2="700"/><line x1="400" y1="746" x2="414" y2="750"/><line x1="450" y1="706" x2="462" y2="708"/><line x1="470" y1="747" x2="484" y2="750"/><line x1="560" y1="734" x2="587" y2="740"/><line x1="515" y1="724" x2="535" y2="726"/><line x1="420" y1="730" x2="436" y2="736"/></g>
<g stroke="#bbb" stroke-width="1.2"><line x1="372" y1="700" x2="380" y2="700"/><line x1="392" y1="744" x2="400" y2="746"/><line x1="385" y1="760" x2="395" y2="755"/></g>
<g fill="none" stroke-width="2">
<path d="M590 712C640 712 640 682 678 682" stroke="#e01818"/>
<path d="M590 712C640 712 660 676 698 676" stroke="#f2d20a"/>
<path d="M590 712C640 712 680 684 723 684" stroke="#1e6fd8"/>
<path d="M590 712C640 712 700 690 738 690" stroke="#1aa880"/>
<path d="M590 712C640 712 680 700 718 700" stroke="#e01818"/>
<path d="M590 712C640 712 700 702 743 702" stroke="#f2d20a"/>
<path d="M590 712C640 712 690 712 728 712" stroke="#1e6fd8"/>
<path d="M590 712C640 712 710 718 748 718" stroke="#e01818"/>
<path d="M590 712C640 712 680 724 718 724" stroke="#f2d20a"/>
<path d="M590 712C640 712 700 730 738 730" stroke="#e01818"/>
<path d="M590 712C640 712 675 738 713 738" stroke="#f2d20a"/>
<path d="M590 712C640 712 695 745 733 745" stroke="#e01818"/>
<path d="M590 712C640 712 660 750 698 750" stroke="#1aa880"/>
<path d="M590 712C640 712 680 756 718 756" stroke="#e01818"/>
<path d="M590 712C630 712 640 760 678 760" stroke="#f2d20a"/>
<path d="M590 712C640 712 655 690 693 690" stroke="#f07a10"/>
<path d="M590 712C640 712 640 700 668 700" stroke="#1e6fd8"/>
<path d="M590 712C640 712 665 710 703 710" stroke="#f2d20a"/>
<path d="M590 712C640 712 645 740 683 740" stroke="#e01818"/>
<path d="M590 712C630 712 630 748 658 748" stroke="#1e6fd8"/>
</g>
<g stroke="#111" stroke-width="4">
<line x1="678" y1="682" x2="700" y2="682"/><line x1="698" y1="676" x2="720" y2="676"/><line x1="723" y1="684" x2="745" y2="684"/><line x1="738" y1="690" x2="760" y2="690"/><line x1="718" y1="700" x2="740" y2="700"/><line x1="743" y1="702" x2="765" y2="702"/><line x1="728" y1="712" x2="750" y2="712"/><line x1="748" y1="718" x2="770" y2="718"/><line x1="718" y1="724" x2="740" y2="724"/><line x1="738" y1="730" x2="760" y2="730"/><line x1="713" y1="738" x2="735" y2="738"/><line x1="733" y1="745" x2="755" y2="745"/><line x1="698" y1="750" x2="720" y2="750"/><line x1="718" y1="756" x2="740" y2="756"/><line x1="678" y1="760" x2="700" y2="760"/><line x1="693" y1="690" x2="715" y2="690"/><line x1="668" y1="700" x2="690" y2="700"/><line x1="703" y1="710" x2="725" y2="710"/><line x1="683" y1="740" x2="705" y2="740"/><line x1="658" y1="748" x2="680" y2="748"/>
</g>
<g stroke="#bdbdbd" stroke-width="1.3">
<line x1="700" y1="682" x2="710" y2="682"/><line x1="720" y1="676" x2="730" y2="676"/><line x1="745" y1="684" x2="755" y2="684"/><line x1="760" y1="690" x2="770" y2="690"/><line x1="740" y1="700" x2="750" y2="700"/><line x1="765" y1="702" x2="775" y2="702"/><line x1="750" y1="712" x2="760" y2="712"/><line x1="770" y1="718" x2="780" y2="718"/><line x1="740" y1="724" x2="750" y2="724"/><line x1="760" y1="730" x2="770" y2="730"/><line x1="735" y1="738" x2="745" y2="738"/><line x1="755" y1="745" x2="765" y2="745"/><line x1="720" y1="750" x2="730" y2="750"/><line x1="740" y1="756" x2="750" y2="756"/><line x1="700" y1="760" x2="710" y2="760"/>
</g>
<rect x="587" y="698" width="6" height="28" fill="#f0f0f0" stroke="#ccc" stroke-width="0.8"/>
</svg>
</body></html>
